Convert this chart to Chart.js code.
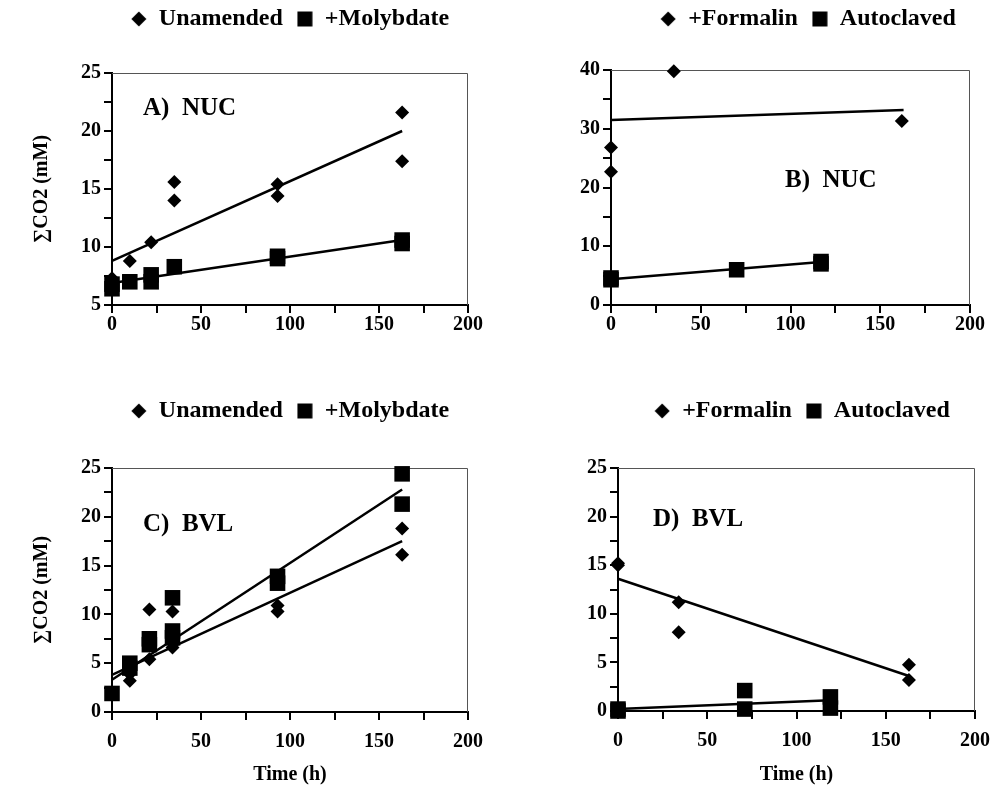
<!DOCTYPE html>
<html>
<head>
<meta charset="utf-8">
<script src="https://cdn.jsdelivr.net/npm/chart.js@4.4.1/dist/chart.umd.min.js"></script>
<style>
  html, body { margin: 0; padding: 0; background: #fff; }
  #page { position: relative; width: 1000px; height: 803px; overflow: hidden; background: #fff; }
  canvas { position: absolute; }
</style>
</head>
<body>
<div id="page">
  <canvas id="chartA" width="500" height="400" style="left:0;top:0"></canvas>
  <canvas id="chartB" width="500" height="400" style="left:500px;top:0"></canvas>
  <canvas id="chartC" width="500" height="423" style="left:0;top:380px"></canvas>
  <canvas id="chartD" width="500" height="423" style="left:500px;top:380px"></canvas>
</div>
<script>
// ===== data =====
// A) NUC
const timeA_unamended = [0, 10, 22, 35, 35, 93, 93, 163, 163];
const co2A_unamended  = [7.3, 8.8, 10.4, 15.6, 14.0, 15.4, 14.4, 21.6, 17.4];
const timeA_molyb     = [0, 0, 10, 22, 22, 35, 93, 93, 163, 163];
const co2A_molyb      = [6.4, 6.8, 7.0, 7.0, 7.6, 8.3, 9.0, 9.2, 10.3, 10.6];
const fitA_unamended  = [[0, 8.8], [163, 20.0]];
const fitA_molyb      = [[0, 6.9], [163, 10.6]];

// B) NUC
const timeB_formalin  = [0, 0, 35, 162];
const co2B_formalin   = [26.8, 22.7, 39.8, 31.3];
const timeB_autoclave = [0, 0, 70, 117, 117];
const co2B_autoclave  = [4.3, 4.6, 6.0, 7.0, 7.4];
const fitB_formalin   = [[0, 31.5], [163, 33.2]];
const fitB_autoclave  = [[0, 4.4], [117, 7.3]];

// C) BVL
const timeC_unamended = [10, 10, 21, 21, 34, 34, 34, 93, 93, 163, 163];
const co2C_unamended  = [3.2, 3.9, 5.4, 10.5, 6.6, 7.1, 10.3, 10.3, 10.9, 18.8, 16.1];
const timeC_molyb     = [0, 10, 10, 21, 21, 34, 34, 34, 93, 93, 163, 163];
const co2C_molyb      = [1.9, 4.5, 5.0, 6.9, 7.5, 7.6, 8.3, 11.7, 13.2, 13.9, 24.4, 21.3];
const fitC_unamended  = [[0, 3.8], [163, 17.5]];
const fitC_molyb      = [[0, 3.3], [163, 22.8]];

// D) BVL
const timeD_formalin  = [0, 0, 34, 34, 163, 163];
const co2D_formalin   = [15.0, 15.2, 11.2, 8.1, 4.75, 3.2];
const timeD_autoclave = [0, 0, 71, 71, 119, 119];
const co2D_autoclave  = [0.2, 0.0, 2.1, 0.2, 1.45, 0.3];
const fitD_formalin   = [[0, 13.6], [163, 3.6]];
const fitD_autoclave  = [[0, 0.2], [119, 1.1]];

const xTicks = [0, 50, 100, 150, 200];

// ===== helpers =====
Chart.defaults.font.family = 'Liberation Serif';
Chart.defaults.font.weight = 'bold';
Chart.defaults.color = '#000';

function pts(xs, ys) { return xs.map((x, i) => ({ x: x, y: ys[i] })); }
function fitPts(pairs) { return pairs.map(p => ({ x: p[0], y: p[1] })); }

// legend markers: small diamond and square like the figure's glyphs
function markerCanvas(kind) {
    const c = document.createElement('canvas');
    c.width = 16; c.height = 16;
    const g = c.getContext('2d');
    g.fillStyle = '#000';
    g.beginPath();
    if (kind === 'rectRot') { g.moveTo(8, 0.5); g.lineTo(15.5, 8); g.lineTo(8, 15.5); g.lineTo(0.5, 8); g.closePath(); }
    else { g.rect(0.5, 0.5, 15, 15); }
    g.fill();
    return c;
}
const legendMarks = { rectRot: markerCanvas('rectRot'), rect: markerCanvas('rect') };

// thin box on top and right of the plot area
const frameBox = {
    id: 'frameBox',
    beforeDatasetsDraw(chart) {
        const { ctx, chartArea: a } = chart;
        ctx.save();
        ctx.strokeStyle = '#555';
        ctx.lineWidth = 1;
        ctx.beginPath();
        ctx.moveTo(a.left, a.top + 0.5);
        ctx.lineTo(a.right - 0.5, a.top + 0.5);
        ctx.lineTo(a.right - 0.5, a.bottom);
        ctx.stroke();
        ctx.restore();
    }
};

// "A) NUC" etc. inside the plot
const panelLabel = {
    id: 'panelLabel',
    afterDatasetsDraw(chart, args, opts) {
        const { ctx, chartArea: a } = chart;
        ctx.save();
        ctx.font = 'bold 25px "Liberation Serif"';
        ctx.fillStyle = '#000';
        ctx.textBaseline = 'middle';
        ctx.fillText(opts.text, a.left + opts.dx, a.top + opts.dy);
        ctx.restore();
    }
};

// move the legend to where it sits in the figure
const placeLegend = {
    id: 'placeLegend',
    afterLayout(chart, args, opts) {
        const lg = chart.legend;
        if (!lg) return;
        const p = lg.options.labels.padding;
        const fs = lg.options.labels.font.size;
        const dx = opts.cx - (lg.left + lg.right) / 2;
        const dy = opts.cy - (lg.top + p + fs / 2);
        lg.left += dx; lg.right += dx; lg.top += dy; lg.bottom += dy;
    }
};

function makePanel(id, p) {
    const diamond = { label: p.names[0], data: p.d1, pointStyle: 'rectRot', pointRadius: 7,
        backgroundColor: '#000', borderWidth: 0, showLine: false, clip: false };
    const square = { label: p.names[1], data: p.d2, pointStyle: 'rect', pointRadius: 11,
        backgroundColor: '#000', borderWidth: 0, showLine: false, clip: false };
    const fits = p.fits.map(f => ({ label: 'trend', data: f, showLine: true, borderColor: '#000',
        borderWidth: 2.5, pointRadius: 0, fill: false, clip: false }));

    return new Chart(document.getElementById(id), {
        type: 'scatter',
        data: { datasets: [diamond, square].concat(fits) },
        options: {
            responsive: false, animation: false, events: [],
            layout: { padding: p.pad },
            plugins: {
                legend: {
                    position: 'top', fullSize: false,
                    labels: { usePointStyle: true, boxWidth: 16, boxHeight: 16, padding: 14,
                        font: { size: 24, weight: 'bold' }, color: '#000',
                        generateLabels: chart => Chart.defaults.plugins.legend.labels.generateLabels(chart)
                            .map(it => Object.assign(it, { pointStyle: legendMarks[it.pointStyle] || it.pointStyle })),
                        filter: item => item.text !== 'trend' }
                },
                tooltip: { enabled: false },
                placeLegend: p.legendAt,
                panelLabel: p.tag
            },
            scales: {
                x: {
                    type: 'linear', min: 0, max: 200,
                    afterBuildTicks: s => { s.ticks = [0, 25, 50, 75, 100, 125, 150, 175, 200].map(v => ({ value: v })); },
                    ticks: { autoSkip: false, maxRotation: 0, padding: p.xpad, font: { size: 20 },
                        callback: v => (xTicks.includes(v) ? v : '') },
                    grid: { drawOnChartArea: false, tickLength: 8, color: '#000', lineWidth: 2 },
                    border: { color: '#000', width: 2 },
                    title: { display: !!p.xTitle, text: p.xTitle || '', font: { size: 20 },
                        padding: { top: 4, bottom: 4 } },
                    afterFit: s => { s.height = p.xh; }
                },
                y: {
                    type: 'linear', min: p.ymin, max: p.ymax,
                    ticks: { stepSize: p.ystep, autoSkip: false, padding: 3, font: { size: 20 },
                        callback: v => (v % p.ylab === 0 ? v : '') },
                    grid: { drawOnChartArea: false, tickLength: 8, color: '#000', lineWidth: 2 },
                    border: { color: '#000', width: 2 },
                    title: { display: !!p.yTitle, text: p.yTitle || '', font: { size: 20 },
                        padding: { top: 4, bottom: 4 } },
                    afterFit: s => { s.width = p.yw; }
                }
            }
        },
        plugins: [frameBox, panelLabel, placeLegend]
    });
}

makePanel('chartA', {
    names: ['Unamended', '+Molybdate'],
    d1: pts(timeA_unamended, co2A_unamended), d2: pts(timeA_molyb, co2A_molyb),
    fits: [fitPts(fitA_unamended), fitPts(fitA_molyb)],
    ymin: 5, ymax: 25, ystep: 2.5, ylab: 5,
    yTitle: '\u2211CO2 (mM)', yw: 86, xh: 40, xpad: 0,
    pad: { left: 26, right: 32, top: 25, bottom: 55 },
    legendAt: { cx: 290, cy: 19 },
    tag: { text: 'A)  NUC', dx: 31, dy: 36 }
});

makePanel('chartB', {
    names: ['+Formalin', 'Autoclaved'],
    d1: pts(timeB_formalin, co2B_formalin), d2: pts(timeB_autoclave, co2B_autoclave),
    fits: [fitPts(fitB_formalin), fitPts(fitB_autoclave)],
    ymin: 0, ymax: 40, ystep: 5, ylab: 10,
    yw: 71, xh: 40, xpad: 0,
    pad: { left: 40, right: 30, top: 22, bottom: 55 },
    legendAt: { cx: 308, cy: 19 },
    tag: { text: 'B)  NUC', dx: 174, dy: 111 }
});

makePanel('chartC', {
    names: ['Unamended', '+Molybdate'],
    d1: pts(timeC_unamended, co2C_unamended), d2: pts(timeC_molyb, co2C_molyb),
    fits: [fitPts(fitC_unamended), fitPts(fitC_molyb)],
    ymin: 0, ymax: 25, ystep: 2.5, ylab: 5,
    yTitle: '\u2211CO2 (mM)', xTitle: 'Time (h)', yw: 86, xh: 79, xpad: 10,
    pad: { left: 26, right: 32, top: 40, bottom: 12 },
    legendAt: { cx: 290, cy: 31 },
    tag: { text: 'C)  BVL', dx: 31, dy: 57 }
});

makePanel('chartD', {
    names: ['+Formalin', 'Autoclaved'],
    d1: pts(timeD_formalin, co2D_formalin), d2: pts(timeD_autoclave, co2D_autoclave),
    fits: [fitPts(fitD_formalin), fitPts(fitD_autoclave)],
    ymin: 0, ymax: 25, ystep: 2.5, ylab: 5,
    xTitle: 'Time (h)', yw: 78, xh: 80, xpad: 10,
    pad: { left: 40, right: 22, top: 40, bottom: 12 },
    legendAt: { cx: 302, cy: 31 },
    tag: { text: 'D)  BVL', dx: 35, dy: 52 }
});
</script>
</body>
</html>
